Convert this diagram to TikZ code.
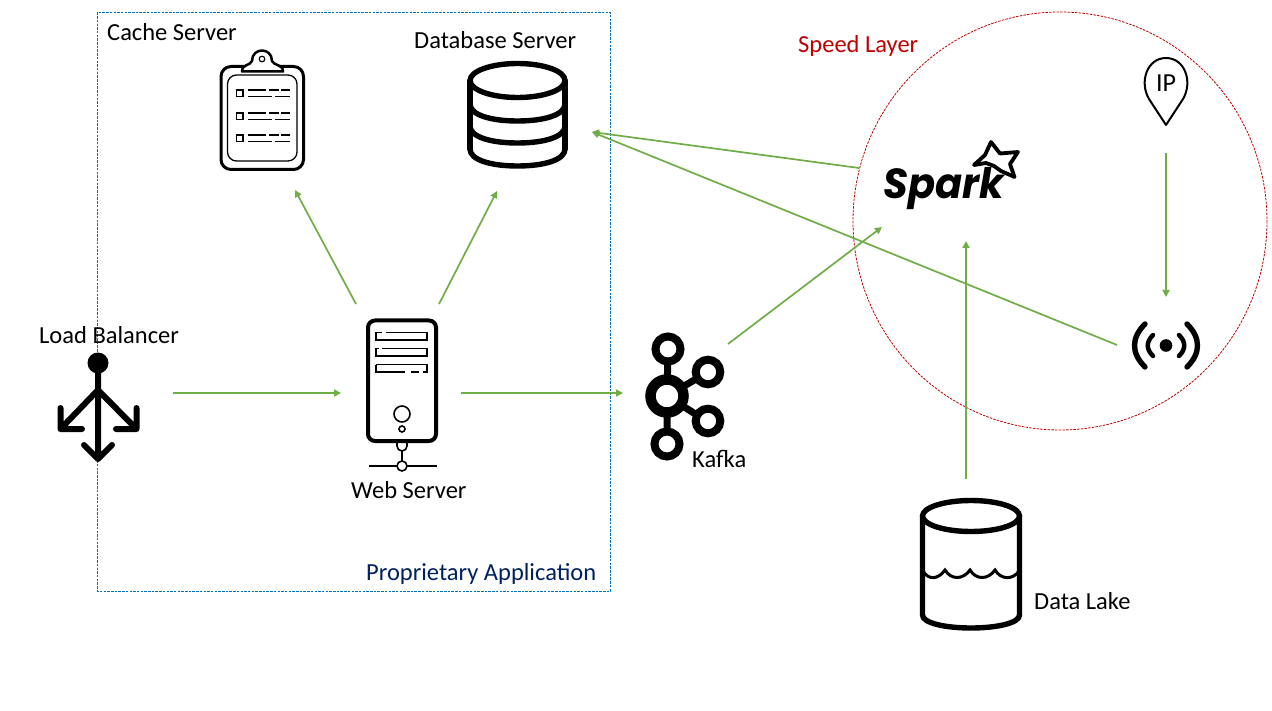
\documentclass[tikz,border=0pt]{standalone}
\usepackage{fontspec}
\setmainfont{Carlito}
\newfontfamily\sparkfont{Poppins}
\definecolor{arrowgreen}{HTML}{70AD47}
\definecolor{frameblue}{HTML}{0070C0}
\definecolor{navytext}{HTML}{002060}
\definecolor{speedred}{HTML}{C00000}
\usetikzlibrary{arrows.meta}
\tikzset{
  label text/.style={inner sep=0pt,font=\fontsize{24.5}{28}\selectfont,anchor=base west,text=black},
  flow/.style={draw=arrowgreen,line width=1.7pt,-{Triangle[length=7pt,width=7pt]},shorten >=0pt},
  heavy/.style={draw=black,line width=5.4pt,line cap=round,line join=round},
  medium/.style={draw=black,line width=3pt,line cap=round,line join=round},
  fine/.style={draw=black,line width=1.3pt},
}
\begin{document}
\begin{tikzpicture}[x=1pt,y=-1pt]
\useasboundingbox (0,0) rectangle (1272,711);
% frames
\draw[frameblue,line width=.8pt,dash pattern=on 2.5pt off 1.2pt] (97.5,12.5) rectangle (610.5,591);
\draw[speedred,line width=.8pt,dash pattern=on 2.5pt off 1.2pt] (1060,221) ellipse [x radius=207,y radius=209];
% clipboard
\draw[medium,rounded corners=10pt] (221,66.5) rectangle (303.5,169.5);
\draw[fine,rounded corners=9pt] (227.5,75) rectangle (297,161);
\draw[medium,fill=white,line width=2.5pt] (242,71.5) .. controls (242,64) and (250,66) .. (252,61) .. controls (252,47) and (272,47) .. (272,61) .. controls (274,66) and (283,64) .. (283,71.5) -- cycle;
\draw[line width=1.2pt] (262,59) circle [radius=2.8];
\foreach \yy in {90,113,135}{
  \draw[line width=1.2pt] (236.5,\yy) rectangle (243,\yy+6.5);
  \draw[line width=1.2pt] (248,\yy) -- (266,\yy) (269,\yy) -- (279,\yy) (281,\yy) -- (290,\yy);
  \draw[line width=1.2pt] (248,\yy+6.5) -- (272,\yy+6.5) (275,\yy+6.5) -- (290,\yy+6.5);
}
% database
\draw[heavy] (517.5,80.5) ellipse [x radius=47.5,y radius=17];
\draw[heavy] (470,81) -- (470,149) (565,81) -- (565,149);
\foreach \yy in {104,126,149}{
  \draw[heavy] (470,\yy) .. controls (470,\yy+11) and (491,\yy+17) .. (517.5,\yy+17) .. controls (544,\yy+17) and (565,\yy+11) .. (565,\yy);
}
% load balancer
\fill (98,363) circle [radius=10.5];
\draw[black,line width=6pt,line cap=round,line join=round]
  (98,363) -- (98,459)
  (84,445) -- (98,459) -- (112,445)
  (60.5,429) -- (98,390) -- (136.5,429)
  (60.5,408) -- (60.5,429) -- (82,429)
  (136.5,408) -- (136.5,429) -- (116,429);
% web server
\draw[black,line width=4pt,rounded corners=7pt] (368,320.5) rectangle (436,441);
\draw[line width=1.5pt] (386,332.5) -- (427,332.5) -- (427,340) -- (376,340) -- (376,332.5) -- (382,332.5);
\draw[line width=1.5pt] (382,348.5) -- (427,348.5) -- (427,356) -- (376,356) -- (376,348.5) -- (379,348.5);
\draw[line width=1.5pt] (376,364.5) -- (427,364.5) -- (427,372) -- (423,372) (419,372) -- (411,372) (405,372) -- (376,372) -- (376,364.5);
\draw[line width=1.6pt] (402,414) circle [radius=8];
\draw[line width=1.6pt] (402,429) circle [radius=3];
\draw[line width=1.6pt] (397,443) -- (397,446) arc[start angle=180,end angle=360,radius=5pt] -- (407,443);
\draw[line width=1.2pt] (402,451) -- (402,461);
\draw[line width=1.2pt] (369,466) -- (397,466) (407,466) -- (437,466);
\draw[line width=1.6pt] (402,466) circle [radius=5];
% kafka
\draw[black,line width=7pt] (668,349) -- (667,396) -- (667,443)
  (667,396) -- (708,372) (667,396) -- (708,422);
\draw[draw=black,line width=8pt,fill=white] (668,349) circle [radius=12.5];
\draw[draw=black,line width=8pt,fill=white] (708,372) circle [radius=12.3];
\draw[draw=black,line width=8pt,fill=white] (708,421) circle [radius=12.3];
\draw[draw=black,line width=8pt,fill=white] (667,444) circle [radius=12.5];
\draw[draw=black,line width=10.5pt,fill=white] (667,396) circle [radius=16.5];
% spark
\node[inner sep=0pt,anchor=center,xscale=.95] (sparkword) at (944,188.5) {\fontsize{42}{46}\selectfont\sparkfont\bfseries\itshape Spark};
\draw[medium,line width=3.8pt] (991,142) -- (1000,153.5) -- (1018,152) -- (1010,164) -- (1014.5,177) -- (1001,171) -- (994,166) -- (986,163) -- (974,165) -- (985,155) -- cycle;
% ip pin
\draw[black,line width=2pt,line join=round] (1166,125) -- (1149,99) .. controls (1139,82) and (1147,58) .. (1166,58) .. controls (1185,58) and (1193,82) .. (1183,99) -- cycle;
\node[inner sep=0pt,font=\fontsize{26}{28}\selectfont] (iptext) at (1166,83) {IP};
% radio
\fill (1166,345.5) circle [radius=6.3];
\draw[heavy] (1145,324) .. controls (1131,338) and (1131,353) .. (1145,367);
\draw[heavy] (1187,324) .. controls (1201,338) and (1201,353) .. (1187,367);
\draw[black,line width=4.5pt,line cap=round] (1153,335) .. controls (1146,342) and (1146,349) .. (1153,356);
\draw[black,line width=4.5pt,line cap=round] (1179,335) .. controls (1186,342) and (1186,349) .. (1179,356);
% data lake
\draw[heavy] (971,516) ellipse [x radius=48.5,y radius=15.5];
\draw[heavy] (922.5,516) -- (922.5,615) .. controls (922.5,623) and (945,628) .. (971,628) .. controls (997,628) and (1019.5,623) .. (1019.5,615) -- (1019.5,516);
\draw[black,line width=3pt] (923,571) .. controls (928,580) and (938,580) .. (945,570) .. controls (951,580) and (963,580) .. (970,570) .. controls (976,580) and (988,580) .. (995,570) .. controls (1001,580) and (1013,580) .. (1019,571);
% labels
\node[label text] (cachelabel) at (107,40.8) {Cache Server};
\node[label text] (dblabel) at (414,48.8) {Database Server};
\node[label text] (lblabel) at (39,343.8) {Load Balancer};
\node[label text] (weblabel) at (351,498) {Web Server};
\node[label text] (kafkalabel) at (692,467) {Kafka};
\node[label text] (lakelabel) at (1034,609) {Data Lake};
\node[label text,text=navytext] (proplabel) at (366,580) {Proprietary Application};
\node[label text,text=speedred] (speedlabel) at (798,52.8) {Speed Layer};
% connector ends
\coordinate (lbOut) at (173,393);
\coordinate (webIn) at (341,393);
\coordinate (webOut) at (461,393);
\coordinate (kafkaIn) at (623,393);
\coordinate (webCache) at (356,304);
\coordinate (cacheIn) at (295,190);
\coordinate (webDb) at (439,304);
\coordinate (dbIn) at (497,191);
\coordinate (kafkaOut) at (728,344);
\coordinate (sparkIn) at (882,227);
\coordinate (sparkOut) at (859,168);
\coordinate (dbRight) at (592,132);
\coordinate (radioOut) at (1117,345);
\coordinate (lakeOut) at (966,479);
\coordinate (sparkBottom) at (966,241);
\coordinate (ipOut) at (1166,153);
\coordinate (radioIn) at (1166,297);
% connectors
\draw[flow] (lbOut) -- (webIn);
\draw[flow] (webOut) -- (kafkaIn);
\draw[flow] (webCache) -- (cacheIn);
\draw[flow] (webDb) -- (dbIn);
\draw[flow] (kafkaOut) -- (sparkIn);
\draw[flow] (sparkOut) -- (dbRight);
\draw[flow] (radioOut) -- (dbRight);
\draw[flow] (lakeOut) -- (sparkBottom);
\draw[flow] (ipOut) -- (radioIn);
\end{tikzpicture}
\end{document}
